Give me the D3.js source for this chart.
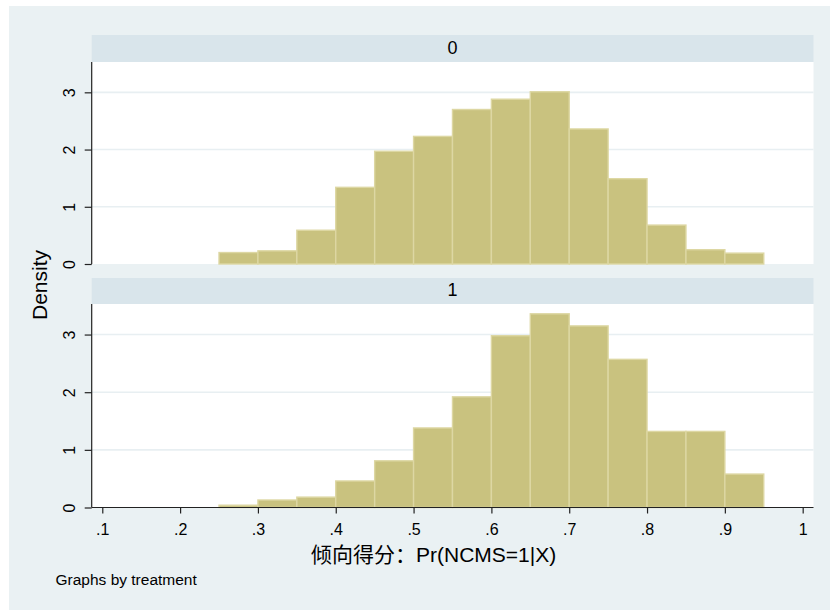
<!DOCTYPE html>
<html>
<head>
<meta charset="utf-8">
<script src="https://cdn.jsdelivr.net/npm/d3@7"></script>
<style>
  html, body { margin: 0; padding: 0; background: #ffffff; }
  svg { display: block; }
  text { font-family: "Liberation Sans", Arial, "Noto Sans CJK SC", sans-serif; fill: #000; }
</style>
</head>
<body>
<svg id="chart" width="830" height="610"></svg>
<script>
// ---- data ----
const binStarts = [0.25, 0.30, 0.35, 0.40, 0.45, 0.50, 0.55, 0.60, 0.65, 0.70, 0.75, 0.80, 0.85, 0.90];
const binWidth = 0.05;
const density0 = [0.20, 0.23, 0.59, 1.34, 1.97, 2.23, 2.70, 2.88, 3.01, 2.36, 1.49, 0.68, 0.25, 0.19];
const density1 = [0.04, 0.13, 0.18, 0.46, 0.81, 1.38, 1.92, 2.98, 3.36, 3.15, 2.57, 1.32, 1.32, 0.58];
const panelLabels = ["0", "1"];
const xTicks = [0.1, 0.2, 0.3, 0.4, 0.5, 0.6, 0.7, 0.8, 0.9, 1];
const xTickLabels = [".1", ".2", ".3", ".4", ".5", ".6", ".7", ".8", ".9", "1"];
const yTicks = [0, 1, 2, 3];
const yTitle = "Density";
const xTitle = "倾向得分：Pr(NCMS=1|X)";
const note = "Graphs by treatment";

// ---- layout ----
const svg = d3.select("#chart");
const bg = "#eaf1f3", headerBg = "#d9e5eb", barFill = "#c9c27f", barStroke = "#ddd7a3", gridCol = "#e8eff2";
svg.append("rect").attr("x", 9).attr("y", 6).attr("width", 821).attr("height", 604).attr("fill", bg);

const left = 91.7, right = 813.5;
const x = d3.scaleLinear().domain([0.0864, 1.0139]).range([left, right]);

const panels = [
  { label: panelLabels[0], data: density0, headTop: 35, headBot: 62, plotBot: 264, xAxis: false },
  { label: panelLabels[1], data: density1, headTop: 278, headBot: 304, plotBot: 507.5, xAxis: true }
];

panels.forEach(p => {
  const y = d3.scaleLinear().domain([0, 3.53]).range([p.plotBot, p.headBot]);
  const g = svg.append("g");
  // header
  g.append("rect").attr("x", left).attr("y", p.headTop).attr("width", right - left).attr("height", p.headBot - p.headTop).attr("fill", headerBg);
  g.append("text").attr("x", (left + right) / 2).attr("y", p.headBot - 8).attr("text-anchor", "middle")
    .attr("font-size", 18).text(p.label);
  // plot area
  g.append("rect").attr("x", left).attr("y", p.headBot).attr("width", right - left).attr("height", p.plotBot - p.headBot).attr("fill", "#ffffff");
  // grid
  g.selectAll("line.grid").data(yTicks.filter(t => t > 0)).join("line")
    .attr("x1", left).attr("x2", right).attr("y1", d => y(d)).attr("y2", d => y(d))
    .attr("stroke", gridCol).attr("stroke-width", 1.6);
  // bars
  g.selectAll("rect.bar").data(p.data.map((v, i) => ({ x0: binStarts[i], v }))).join("rect")
    .attr("x", d => x(d.x0)).attr("width", d => x(d.x0 + binWidth) - x(d.x0))
    .attr("y", d => y(d.v)).attr("height", d => y(0) - y(d.v))
    .attr("fill", barFill).attr("stroke", barStroke).attr("stroke-width", 1.4);
  // y axis
  const ya = g.append("g").attr("transform", `translate(${left},0)`)
    .call(d3.axisLeft(y).tickValues(yTicks).tickSize(7).tickPadding(0).tickFormat(d3.format("d")));
  ya.select(".domain").attr("d", `M0,${p.headBot}V${p.plotBot}`).attr("stroke", "#222").attr("stroke-width", 1.2);
  ya.selectAll(".tick line").attr("stroke", "#222").attr("stroke-width", 1.2);
  ya.selectAll(".tick text").attr("font-size", 16).attr("font-family", "Liberation Sans, Arial, sans-serif")
    .attr("text-anchor", "middle").attr("x", null).attr("dy", null)
    .attr("transform", "translate(-16.5,0) rotate(-90)").attr("y", 0).attr("fill", "#000");
  if (p.xAxis) {
    const xa = g.append("g").attr("transform", `translate(0,${p.plotBot})`)
      .call(d3.axisBottom(x).tickValues(xTicks).tickSize(6).tickPadding(10)
        .tickFormat((d, i) => xTickLabels[i]));
    xa.select(".domain").attr("d", `M${left},0H${right}`).attr("stroke", "#222").attr("stroke-width", 1.2);
    xa.selectAll(".tick line").attr("stroke", "#222").attr("stroke-width", 1.2);
    xa.selectAll(".tick text").attr("font-size", 16).attr("font-family", "Liberation Sans, Arial, sans-serif").attr("fill", "#000");
  }
});

// titles
svg.append("text").attr("transform", "translate(47,285) rotate(-90)").attr("text-anchor", "middle")
  .attr("font-size", 21).text(yTitle);
svg.append("text").attr("x", 311).attr("y", 562).attr("font-size", 21).text(xTitle);
svg.append("text").attr("x", 55.5).attr("y", 585).attr("font-size", 15.5).attr("fill", "#111").text(note);
</script>
</body>
</html>
